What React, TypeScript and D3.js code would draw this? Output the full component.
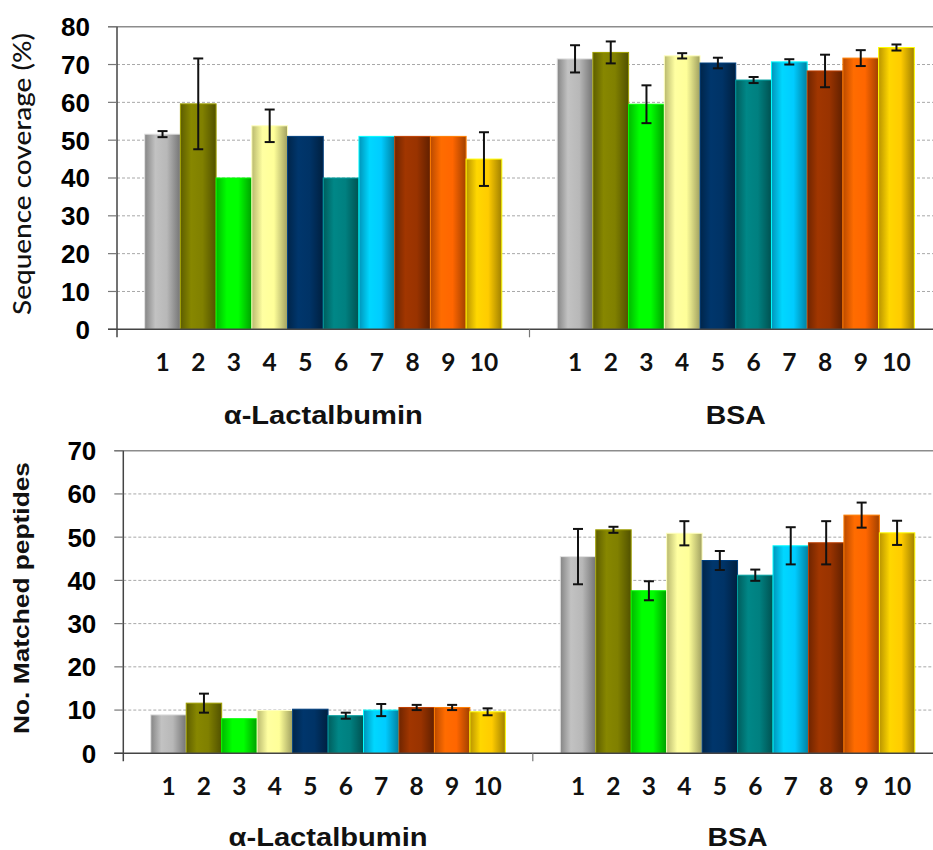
import React from 'react';
import * as d3 from 'd3';

const groups = ['α-Lactalbumin', 'BSA'];
const samples = ['1', '2', '3', '4', '5', '6', '7', '8', '9', '10'];

const coverageLac = [51.6, 59.6, 40.0, 53.8, 51.0, 40.0, 51.0, 51.0, 51.0, 45.0];
const coverageLacErr = [0.8, 12.0, 0, 4.3, 0, 0, 0, 0, 0, 7.1];
const coverageBsa = [71.5, 73.2, 59.5, 72.3, 70.4, 65.9, 70.7, 68.3, 71.7, 74.5];
const coverageBsaErr = [3.6, 2.9, 5.0, 0.7, 1.4, 0.8, 0.7, 4.3, 2.1, 0.8];

const peptidesLac = [8.9, 11.6, 8.0, 9.9, 10.2, 8.7, 10.0, 10.6, 10.6, 9.6];
const peptidesLacErr = [0, 2.2, 0, 0, 0, 0.7, 1.4, 0.6, 0.6, 0.8];
const peptidesBsa = [45.5, 51.7, 37.6, 50.9, 44.6, 41.2, 48.0, 48.7, 55.1, 51.0];
const peptidesBsaErr = [6.4, 0.7, 2.2, 2.8, 2.2, 1.3, 4.3, 5.0, 2.9, 2.8];

const coverageTicks = [0, 10, 20, 30, 40, 50, 60, 70, 80];
const peptideTicks = [0, 10, 20, 30, 40, 50, 60, 70];

const barColors = ['#b8b8b8', '#808000', '#00ff00', '#ffff99', '#003366', '#008080', '#00ccff', '#993300', '#ff6600', '#ffcc00'];

const W = 933;
const H = 850;

type ChartProps = {
  id: string;
  x0: number;
  catW: number;
  yTop: number;
  yZero: number;
  yMax: number;
  ticks: number[];
  values: number[][];
  errors: number[][];
  yLabel: string;
  yLabelFont: string;
  yLabelWeight: number;
  yLabelSize: number;
  yLabelLen: number;
  yLabelX: number;
  groupLabelDy: number;
};

function Chart(p: ChartProps) {
  const y = d3.scaleLinear().domain([0, p.yMax]).range([p.yZero, p.yTop]);
  const outer = d3.scaleBand<string>().domain(groups).range([p.x0, p.x0 + 2 * p.catW]).paddingInner(0).paddingOuter(0);
  const inner = d3.scaleBand<string>().domain(samples).range([0, outer.bandwidth()]).paddingInner(0).paddingOuter(0.775);
  const right = W + 20;
  const labelLens = [199, 60];
  return (
    <g>
      {p.ticks.filter((t) => t > 0 && t < p.yMax).map((t) => (
        <line key={'g' + t} x1={p.x0} x2={right} y1={y(t)} y2={y(t)} stroke="#a8a8a8" strokeWidth={1} strokeDasharray="3,2" />
      ))}
      <line x1={p.x0 - 9} x2={right} y1={y(p.yMax)} y2={y(p.yMax)} stroke="#8c8c8c" strokeWidth={1.5} />
      {groups.map((g, gi) => (
        <g key={g}>
          {samples.map((s, si) => {
            const v = p.values[gi][si];
            const bx = (outer(g) as number) + (inner(s) as number);
            const c = d3.color(barColors[si])!;
            return (
              <rect
                key={s}
                x={bx}
                y={y(v)}
                width={inner.bandwidth()}
                height={y(0) - y(v)}
                fill={`url(#${p.id}-grad-${si})`}
                stroke={c.brighter(0.6).formatHex()}
                strokeWidth={1}
              />
            );
          })}
        </g>
      ))}
      {groups.map((g, gi) => (
        <g key={'e' + g}>
          {samples.map((s, si) => {
            const v = p.values[gi][si];
            const e = p.errors[gi][si];
            if (!e) return null;
            const cx = (outer(g) as number) + (inner(s) as number) + inner.bandwidth() / 2;
            return (
              <g key={s} stroke="#111" strokeWidth={2}>
                <line x1={cx} x2={cx} y1={y(v + e)} y2={y(v - e)} />
                <line x1={cx - 5} x2={cx + 5} y1={y(v + e)} y2={y(v + e)} />
                <line x1={cx - 5} x2={cx + 5} y1={y(v - e)} y2={y(v - e)} />
              </g>
            );
          })}
        </g>
      ))}
      <line x1={p.x0} x2={p.x0} y1={y(p.yMax)} y2={y(0) + 8} stroke="#444" strokeWidth={1.5} />
      {p.ticks.map((t) => (
        <g key={'t' + t}>
          <line x1={p.x0 - 9} x2={p.x0} y1={y(t)} y2={y(t)} stroke="#777" strokeWidth={1.2} />
          <text
            x={p.x0 - 27}
            y={y(t)}
            dy="0.36em"
            textAnchor="end"
            fontFamily="'Liberation Sans', Arial, sans-serif"
            fontWeight={700}
            fontSize={26}
            fill="#000"
          >
            {t}
          </text>
        </g>
      ))}
      <line x1={p.x0 - 9} x2={right} y1={y(0)} y2={y(0)} stroke="#444" strokeWidth={1.5} />
      <line x1={p.x0 + p.catW} x2={p.x0 + p.catW} y1={y(0)} y2={y(0) + 8} stroke="#777" strokeWidth={1.2} />
      {groups.map((g, gi) => (
        <g key={'xl' + g}>
          {samples.map((s) => (
            <text
              key={s}
              x={(outer(g) as number) + (inner(s) as number) + inner.bandwidth() / 2}
              y={y(0) + 42}
              textAnchor="middle"
              fontFamily="Lato, 'Open Sans', sans-serif"
              fontWeight={700}
              fontSize={24.5}
              fill="#111"
            >
              {s}
            </text>
          ))}
          <text
            x={(outer(g) as number) + outer.bandwidth() / 2}
            y={y(0) + p.groupLabelDy}
            textAnchor="middle"
            fontFamily="'Liberation Sans', Arial, sans-serif"
            fontWeight={700}
            fontSize={25.5}
            textLength={labelLens[gi]}
            lengthAdjust="spacingAndGlyphs"
            fill="#111"
          >
            {g}
          </text>
        </g>
      ))}
      <text
        transform={`translate(${p.yLabelX},${(p.yTop + p.yZero) / 2 - 4}) rotate(-90)`}
        textAnchor="middle"
        fontFamily={p.yLabelFont}
        fontWeight={p.yLabelWeight}
        fontSize={p.yLabelSize}
        textLength={p.yLabelLen}
        lengthAdjust="spacingAndGlyphs"
        fill="#111"
      >
        {p.yLabel}
      </text>
    </g>
  );
}

export default function App() {
  const gradIds = ['top', 'bot'];
  return (
    <svg width={W} height={H} style={{ position: 'absolute', left: 0, top: 0, background: '#fff' }}>
      <defs>
        {gradIds.map((id) =>
          barColors.map((c, i) => {
            const base = d3.color(c)!;
            return (
              <linearGradient key={id + i} id={`${id}-grad-${i}`} x1="0" x2="1" y1="0" y2="0">
                <stop offset="0%" stopColor={base.darker(0.9).formatHex()} />
                <stop offset="30%" stopColor={base.brighter(0.15).formatHex()} />
                <stop offset="62%" stopColor={base.formatHex()} />
                <stop offset="100%" stopColor={base.darker(1.3).formatHex()} />
              </linearGradient>
            );
          })
        )}
      </defs>
      <rect x={0} y={0} width={W} height={H} fill="#fff" />
      <Chart
        id="top"
        x0={117}
        catW={412.5}
        yTop={26.7}
        yZero={329.3}
        yMax={80}
        ticks={coverageTicks}
        values={[coverageLac, coverageBsa]}
        errors={[coverageLacErr, coverageBsaErr]}
        yLabel="Sequence coverage (%)"
        yLabelFont="Lato, 'Open Sans', sans-serif"
        yLabelWeight={500}
        yLabelSize={24}
        yLabelLen={282}
        yLabelX={31}
        groupLabelDy={95}
      />
      <Chart
        id="bot"
        x0={123.3}
        catW={409.5}
        yTop={450.7}
        yZero={753.3}
        yMax={70}
        ticks={peptideTicks}
        values={[peptidesLac, peptidesBsa]}
        errors={[peptidesLacErr, peptidesBsaErr]}
        yLabel="No. Matched peptides"
        yLabelFont="'Liberation Sans', Arial, sans-serif"
        yLabelWeight={700}
        yLabelSize={22.5}
        yLabelLen={272}
        yLabelX={29}
        groupLabelDy={92.5}
      />
    </svg>
  );
}
